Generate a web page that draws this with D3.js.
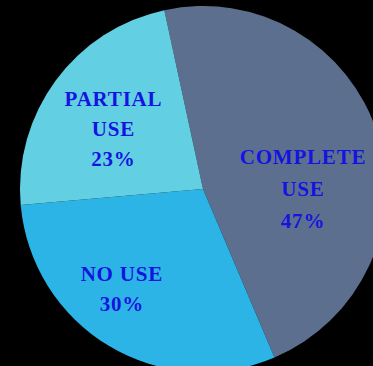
<!DOCTYPE html>
<html>
<head>
<meta charset="utf-8">
<script src="https://cdn.jsdelivr.net/npm/d3@7"></script>
<style>
  html, body { margin: 0; padding: 0; background: #000; }
  svg { display: block; }
</style>
</head>
<body>
<script>
// Usage categories and their shares (percent)
const categories = ["COMPLETE USE", "NO USE", "PARTIAL USE"];
const labelLines = [["COMPLETE", "USE"], ["NO USE"], ["PARTIAL", "USE"]];
const shares = [47, 30, 23];
const colors = ["#5d6f8f", "#2db4e6", "#62d0e2"];

const W = 373, H = 366;
const cx = 203, cy = 189, R = 183;
const startDeg = -12.2;

const svg = d3.select("body").append("svg")
  .attr("width", W).attr("height", H);

svg.append("rect").attr("width", W).attr("height", H).attr("fill", "#000");

const pie = d3.pie().sort(null)
  .startAngle(startDeg * Math.PI / 180)
  .endAngle(startDeg * Math.PI / 180 + 2 * Math.PI);

const arc = d3.arc().innerRadius(0).outerRadius(R);

const arcs = pie(shares);
const g = svg.append("g").attr("transform", `translate(${cx},${cy})`);

g.selectAll("path.slice").data(arcs).enter().append("path")
  .attr("class", "slice")
  .attr("d", arc)
  .attr("fill", (d, i) => colors[i]);

// label block centres, placed by angle (clockwise from 12 o'clock) and distance
const labelRadius = [100, 129, 108];
const labelAngle = [90, 219, 304];
const lineGap = [32, 30, 30];

arcs.forEach((d, i) => {
  const a = labelAngle[i] * Math.PI / 180;
  const x = Math.sin(a) * labelRadius[i];
  const y = -Math.cos(a) * labelRadius[i];
  const lines = labelLines[i].concat([d.data + "%"]);
  const n = lines.length;
  const t = g.append("text")
    .attr("text-anchor", "middle")
    .attr("font-family", "'Liberation Serif', 'DejaVu Serif', serif")
    .attr("font-weight", "bold")
    .attr("font-size", 21)
    .attr("letter-spacing", 0.8)
    .attr("fill", "#1414e0");
  lines.forEach((s, k) => {
    t.append("tspan")
      .attr("x", x)
      .attr("y", y + (k - (n - 1) / 2) * lineGap[i] + 7)
      .text(s);
  });
});
</script>
</body>
</html>
